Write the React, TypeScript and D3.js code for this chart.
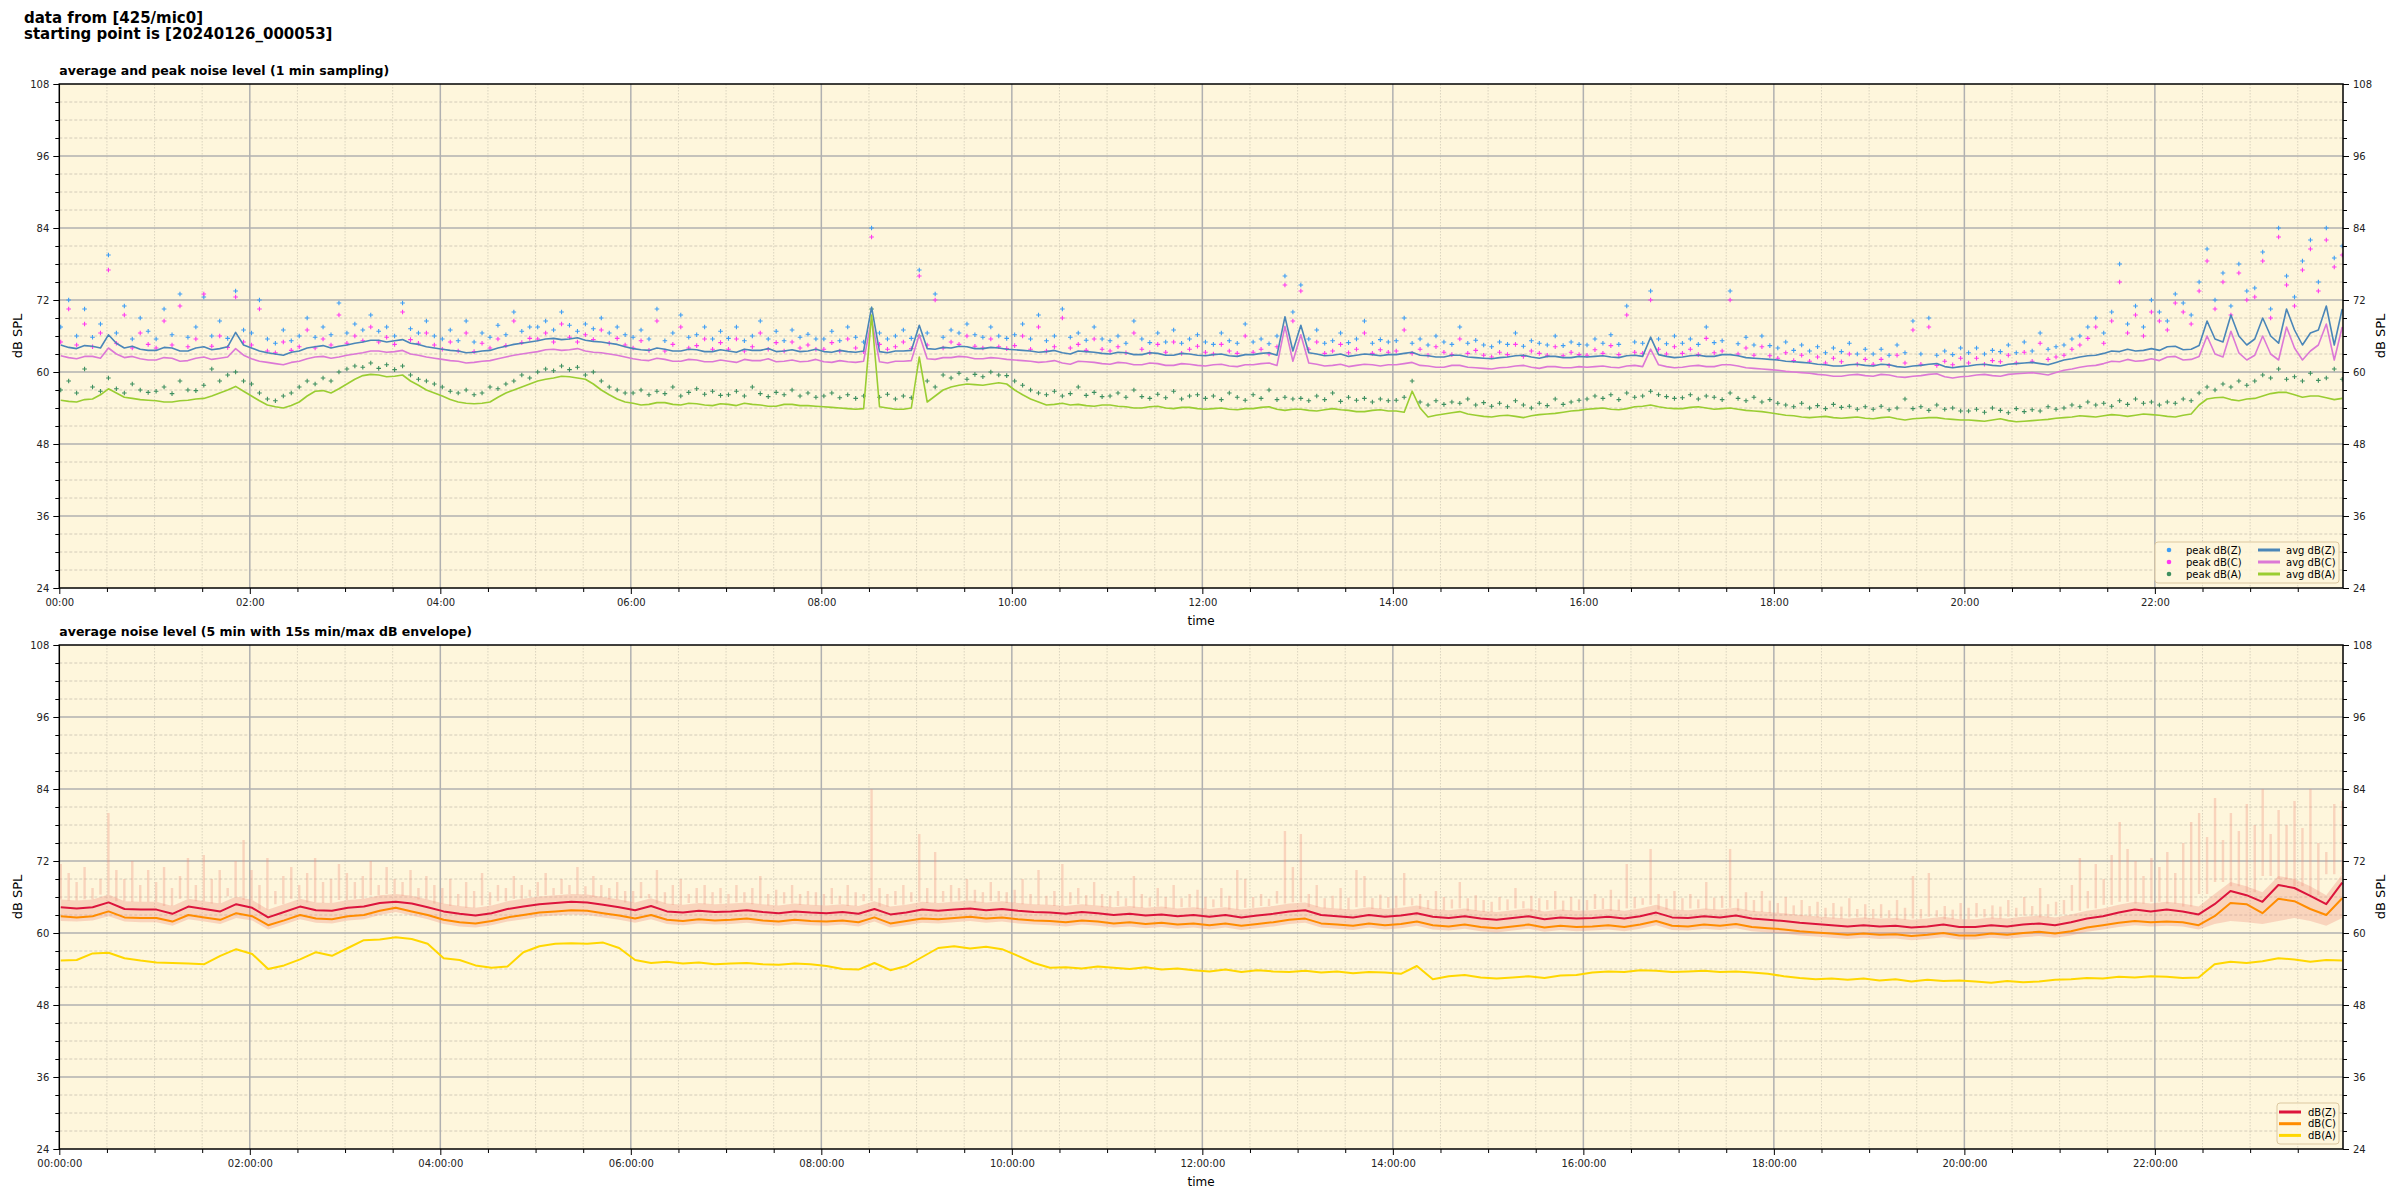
import React, { useEffect, useRef } from 'react';
import * as d3 from 'd3';

// ---- data ----
// 1 min chart: averages and peaks, one value every 5 min
const avgZ = [
  64.5, 64.1, 63.9, 64.4, 64.3, 64.0, 66.2, 64.8, 64.0, 64.3, 63.8, 63.6,
  63.6, 64.1, 64.0, 63.5, 63.5, 64.0, 64.2, 63.7, 63.9, 64.2, 66.6, 64.5,
  64.0, 63.5, 63.2, 63.0, 62.8, 63.3, 63.5, 64.0, 64.2, 64.4, 64.0, 64.3,
  64.5, 64.8, 65.0, 65.3, 65.3, 65.0, 65.2, 65.4, 64.8, 64.6, 64.2, 64.0,
  63.8, 63.6, 63.5, 63.2, 63.3, 63.5, 63.6, 64.0, 64.3, 64.6, 64.8, 65.0,
  65.2, 65.5, 65.6, 65.4, 65.5, 65.7, 65.3, 65.1, 65.0, 64.8, 64.6, 64.2,
  63.9, 63.7, 63.6, 64.0, 63.8, 63.5, 63.5, 63.8, 63.7, 63.4, 63.4, 63.7,
  63.5, 63.3, 63.8, 63.6, 63.6, 63.9, 63.4, 63.5, 63.7, 63.4, 63.5, 63.8,
  63.4, 63.3, 63.6, 63.4, 63.3, 63.5, 70.8, 63.4, 63.2, 63.5, 63.5, 63.6,
  67.8, 63.9, 63.8, 64.1, 64.0, 64.3, 64.2, 63.9, 63.9, 64.1, 64.0, 63.8,
  63.7, 63.6, 63.5, 63.3, 63.4, 63.6, 63.2, 63.0, 63.5, 63.4, 63.3, 63.1,
  63.0, 63.3, 63.2, 62.9, 62.9, 63.2, 63.1, 62.8, 62.8, 63.1, 63.0, 62.8,
  62.7, 62.9, 63.0, 62.7, 62.6, 62.9, 62.9, 63.1, 63.2, 62.8, 69.2, 63.5,
  67.8, 63.2, 63.0, 62.7, 62.8, 63.0, 62.6, 62.8, 63.0, 62.9, 62.7, 62.9,
  62.9, 63.1, 63.3, 62.8, 62.7, 62.5, 62.5, 62.8, 62.8, 62.5, 62.4, 62.3,
  62.2, 62.4, 62.5, 62.7, 62.8, 62.5, 62.3, 62.6, 62.6, 62.4, 62.4, 62.6,
  62.5, 62.6, 62.7, 62.5, 62.4, 62.7, 62.8, 62.6, 65.8, 62.9, 62.6, 62.4,
  62.5, 62.7, 62.8, 62.6, 62.6, 62.9, 62.9, 62.7, 62.4, 62.3, 62.2, 62.1,
  62.0, 61.8, 61.7, 61.6, 61.5, 61.3, 61.2, 61.0, 61.0, 61.2, 61.3, 61.1,
  61.0, 61.3, 61.2, 60.9, 60.8, 61.0, 61.1, 61.3, 61.4, 60.9, 60.7, 60.9,
  61.0, 61.2, 61.3, 61.1, 61.0, 61.3, 61.4, 61.5, 61.6, 61.4, 61.2, 61.6,
  62.0, 62.2, 62.5, 62.7, 62.8, 63.1, 63.5, 63.4, 63.8, 63.5, 63.6, 63.9,
  63.6, 64.2, 64.3, 63.7, 63.8, 64.4, 68.5, 65.5, 65.0, 69.5, 66.0, 64.5,
  65.5, 69.0, 66.0, 64.8, 70.5, 67.0, 64.5, 66.5, 67.0, 71.0, 64.5, 70.5,
];
const avgC = [
  62.7, 62.4, 62.2, 62.6, 62.6, 62.3, 64.0, 63.0, 62.4, 62.6, 62.2, 62.0,
  62.0, 62.4, 62.3, 61.8, 61.9, 62.3, 62.5, 62.1, 62.3, 62.5, 63.9, 62.8,
  62.2, 61.8, 61.6, 61.4, 61.2, 61.6, 61.8, 62.2, 62.5, 62.6, 62.3, 62.5,
  62.8, 63.0, 63.2, 63.5, 63.5, 63.3, 63.4, 63.6, 63.0, 62.8, 62.5, 62.3,
  62.1, 61.9, 61.8, 61.5, 61.6, 61.8, 61.9, 62.2, 62.5, 62.8, 63.0, 63.2,
  63.4, 63.7, 63.8, 63.6, 63.7, 63.9, 63.5, 63.3, 63.2, 63.0, 62.8, 62.5,
  62.2, 62.0, 61.9, 62.3, 62.1, 61.8, 61.8, 62.1, 62.0, 61.7, 61.7, 62.0,
  61.8, 61.6, 62.1, 61.9, 61.9, 62.2, 61.7, 61.8, 62.0, 61.7, 61.8, 62.1,
  61.7, 61.6, 61.9, 61.7, 61.6, 61.8, 68.8, 61.7, 61.5, 61.8, 61.8, 61.9,
  66.2, 62.2, 62.1, 62.4, 62.4, 62.6, 62.5, 62.2, 62.2, 62.4, 62.3, 62.1,
  62.0, 61.9, 61.8, 61.6, 61.7, 61.9, 61.5, 61.3, 61.8, 61.7, 61.6, 61.4,
  61.3, 61.6, 61.5, 61.2, 61.2, 61.5, 61.4, 61.1, 61.1, 61.4, 61.3, 61.1,
  61.0, 61.2, 61.3, 61.0, 60.9, 61.2, 61.2, 61.4, 61.5, 61.1, 67.6, 61.8,
  66.2, 61.5, 61.3, 61.0, 61.1, 61.3, 60.9, 61.1, 61.3, 61.2, 61.0, 61.2,
  61.2, 61.4, 61.6, 61.1, 61.0, 60.8, 60.8, 61.1, 61.1, 60.8, 60.7, 60.6,
  60.5, 60.7, 60.8, 61.0, 61.1, 60.8, 60.6, 60.9, 60.9, 60.7, 60.7, 60.9,
  60.8, 60.9, 61.0, 60.8, 60.7, 61.0, 61.1, 60.9, 63.8, 61.2, 60.9, 60.7,
  60.8, 61.0, 61.1, 60.9, 60.9, 61.2, 61.2, 61.0, 60.7, 60.6, 60.5, 60.4,
  60.3, 60.1, 60.0, 59.9, 59.8, 59.6, 59.5, 59.3, 59.3, 59.5, 59.6, 59.4,
  59.3, 59.6, 59.5, 59.2, 59.1, 59.3, 59.4, 59.6, 59.7, 59.2, 59.0, 59.2,
  59.3, 59.5, 59.6, 59.4, 59.3, 59.6, 59.7, 59.8, 59.9, 59.7, 59.5, 59.9,
  60.3, 60.5, 60.8, 61.0, 61.1, 61.4, 61.8, 61.7, 62.1, 61.8, 61.9, 62.2,
  61.9, 62.5, 62.6, 62.0, 62.1, 62.6, 66.0, 63.0, 62.5, 66.8, 63.2, 62.0,
  62.8, 66.0, 63.0, 62.0, 67.5, 64.0, 62.0, 63.5, 64.5, 68.0, 62.0, 67.5,
];
const avgA = [
  55.3, 55.1, 55.0, 55.4, 55.5, 56.2, 57.2, 56.5, 55.8, 55.6, 55.4, 55.3,
  55.2, 55.0, 55.0, 55.2, 55.3, 55.5, 55.6, 56.0, 56.5, 57.0, 57.6, 56.8,
  56.0, 55.2, 54.5, 54.2, 54.0, 54.4, 55.0, 56.0, 56.8, 56.9, 56.5, 57.2,
  58.0, 58.8, 59.4, 59.6, 59.5, 59.2, 59.3, 59.5, 58.5, 57.8, 57.0, 56.5,
  56.0, 55.4, 55.0, 54.8, 54.7, 54.8, 55.0, 55.8, 56.5, 57.0, 57.5, 58.0,
  58.5, 58.8, 59.0, 59.3, 59.2, 59.0, 58.8, 58.0, 57.0, 56.2, 55.5, 55.0,
  54.8, 54.5, 54.6, 54.9, 54.9, 54.6, 54.5, 54.8, 54.7, 54.5, 54.4, 54.7,
  54.6, 54.4, 54.8, 54.6, 54.5, 54.3, 54.3, 54.6, 54.6, 54.4, 54.4, 54.3,
  54.2, 54.1, 54.0, 53.9, 53.8, 53.9, 69.5, 54.2, 54.0, 53.8, 53.8, 54.0,
  62.5, 55.0, 56.0, 57.0, 57.5, 57.8, 58.0, 57.9, 57.8, 58.0, 58.2, 58.0,
  57.0, 56.2, 55.5, 55.0, 54.5, 54.6, 54.8, 54.5, 54.6, 54.4, 54.3, 54.5,
  54.5, 54.3, 54.2, 54.0, 54.0, 54.2, 54.3, 54.0, 53.9, 54.1, 54.1, 53.9,
  53.8, 53.9, 54.0, 53.8, 53.7, 53.9, 53.9, 54.1, 54.2, 53.8, 53.6, 53.8,
  53.8, 53.6, 53.5, 53.7, 53.9, 53.7, 53.6, 53.4, 53.4, 53.6, 53.7, 53.5,
  53.5, 53.3, 56.8, 54.0, 52.5, 52.8, 53.0, 53.2, 53.4, 53.0, 52.8, 52.6,
  52.5, 52.7, 52.8, 52.6, 52.4, 52.7, 52.9, 53.0, 53.1, 53.3, 53.5, 53.6,
  53.8, 53.9, 54.0, 53.8, 53.7, 53.9, 54.2, 54.3, 54.5, 54.2, 54.0, 53.9,
  53.9, 54.1, 54.2, 54.0, 53.8, 53.9, 54.0, 53.8, 53.6, 53.5, 53.4, 53.2,
  53.0, 52.8, 52.7, 52.5, 52.4, 52.5, 52.6, 52.4, 52.3, 52.4, 52.5, 52.3,
  52.2, 52.4, 52.5, 52.2, 52.0, 52.2, 52.3, 52.4, 52.4, 52.2, 52.1, 52.0,
  52.0, 51.9, 51.8, 52.0, 52.2, 51.9, 51.7, 51.8, 51.9, 52.0, 52.1, 52.3,
  52.4, 52.5, 52.7, 52.6, 52.5, 52.7, 52.9, 52.8, 52.6, 52.8, 53.0, 52.9,
  52.8, 52.6, 52.5, 52.8, 53.0, 54.5, 55.5, 55.7, 55.8, 55.4, 55.2, 55.5,
  55.6, 56.0, 56.4, 56.6, 56.6, 56.2, 55.8, 56.0, 56.0, 55.7, 55.4, 55.6,
];
const peakZ = [
  67.5, 72.0, 66.0, 70.5, 65.8, 68.0, 79.5, 66.5, 71.0, 65.5, 69.0, 66.8,
  65.5, 70.5, 66.2, 73.0, 65.8, 67.5, 72.5, 66.0, 68.5, 65.6, 73.5, 67.0,
  66.5, 72.0, 65.5, 64.8, 67.0, 65.2, 66.0, 69.0, 65.8, 67.5, 66.2, 71.5,
  66.5, 68.0, 67.0, 69.5, 66.8, 67.5, 66.0, 71.5, 67.2, 66.5, 68.5, 66.0,
  65.5, 67.0, 65.2, 68.5, 65.0, 66.5, 65.8, 67.8, 66.2, 70.0, 66.8, 67.5,
  67.5, 68.5, 67.0, 70.0, 67.8, 66.8, 68.0, 67.2, 69.0, 66.5, 67.5, 66.2,
  65.8, 67.0, 65.5, 70.5, 65.2, 66.5, 69.5, 65.8, 66.2, 67.5, 65.5, 66.8,
  65.6, 67.5, 65.2, 66.0, 68.5, 65.5, 66.8, 65.2, 67.0, 65.8, 66.3, 65.5,
  65.5, 66.8, 65.2, 67.5, 65.8, 65.0, 84.0, 66.5, 65.5, 66.0, 67.0, 65.6,
  77.0, 66.5, 73.0, 65.8, 67.0, 66.5, 68.0, 66.2, 65.8, 67.5, 66.0, 65.6,
  66.2, 68.0, 65.5, 69.5, 65.2, 66.0, 70.5, 65.8, 66.5, 65.3, 67.5, 65.5,
  65.2, 66.0, 64.8, 68.5, 65.5, 64.9, 66.5, 65.0, 67.0, 64.8, 65.5, 66.2,
  65.0, 64.6, 66.5, 65.2, 64.8, 68.0, 65.0, 65.5, 64.7, 66.0, 76.0, 70.0,
  74.5, 65.5, 67.0, 64.8, 65.2, 66.5, 64.9, 65.5, 68.5, 64.8, 65.4, 65.0,
  65.2, 69.0, 64.8, 65.5, 64.5, 66.0, 65.0, 64.6, 67.5, 64.8, 65.3, 64.5,
  64.2, 65.0, 64.6, 66.5, 64.3, 65.2, 64.8, 64.5, 66.0, 64.4, 65.0, 64.6,
  64.5, 65.5, 64.8, 66.2, 64.6, 71.0, 65.0, 64.8, 73.5, 65.5, 64.7, 66.0,
  64.8, 65.5, 64.6, 67.5, 64.9, 65.2, 73.5, 64.7, 65.8, 64.5, 66.0, 64.4,
  64.0, 65.0, 63.6, 64.5, 63.5, 64.2, 63.2, 64.0, 63.4, 64.8, 63.0, 63.8,
  63.0, 63.8, 62.8, 64.5, 63.2, 68.5, 63.0, 69.0, 62.8, 63.5, 62.9, 64.0,
  63.2, 64.0, 63.0, 63.6, 63.4, 64.5, 63.2, 65.0, 63.5, 66.5, 63.8, 64.2,
  64.5, 65.5, 66.0, 67.5, 69.0, 66.5, 70.0, 78.0, 68.0, 71.0, 67.5, 72.0,
  70.0, 68.5, 73.0, 71.5, 69.5, 75.0, 80.5, 72.0, 76.5, 71.0, 78.0, 73.5,
  74.0, 80.0, 70.5, 84.0, 76.0, 72.5, 78.5, 82.0, 75.0, 84.0, 79.0, 81.0,
];
const peakC = [
  65.0, 70.5, 64.5, 68.0, 64.2, 66.5, 77.0, 64.8, 69.5, 64.0, 66.5, 64.6,
  64.0, 68.5, 64.5, 71.0, 64.2, 65.5, 73.0, 64.3, 66.0, 64.1, 72.5, 65.0,
  64.5, 70.5, 63.5, 63.2, 65.0, 63.6, 64.2, 67.0, 64.0, 65.5, 64.5, 69.5,
  64.8, 66.0, 65.2, 67.5, 65.0, 65.8, 64.6, 70.0, 65.4, 64.8, 66.5, 64.5,
  63.8, 65.0, 63.5, 66.5, 63.4, 64.8, 64.0, 65.5, 64.4, 68.5, 64.9, 65.6,
  65.5, 66.5, 65.0, 68.0, 65.8, 65.0, 66.2, 65.4, 67.0, 64.8, 65.6, 64.5,
  64.0, 65.2, 63.6, 68.5, 63.5, 64.6, 67.5, 64.0, 64.4, 65.5, 63.8, 64.9,
  63.8, 65.5, 63.5, 64.2, 66.5, 63.8, 64.9, 63.5, 65.0, 64.0, 64.5, 63.8,
  63.8, 64.9, 63.5, 65.5, 64.0, 63.4, 82.5, 64.6, 63.8, 64.2, 65.0, 63.9,
  76.0, 64.5, 72.0, 64.0, 65.0, 64.6, 66.0, 64.3, 64.0, 65.5, 64.2, 63.9,
  64.4, 66.0, 63.8, 67.5, 63.5, 64.2, 69.0, 64.0, 64.6, 63.6, 65.5, 63.8,
  63.5, 64.2, 63.2, 66.5, 63.8, 63.2, 64.6, 63.3, 65.0, 63.1, 63.8, 64.3,
  63.3, 63.0, 64.6, 63.5, 63.1, 66.0, 63.3, 63.8, 63.0, 64.2, 74.5, 68.5,
  73.5, 63.8, 65.0, 63.1, 63.5, 64.6, 63.2, 63.8, 66.5, 63.1, 63.7, 63.3,
  63.5, 67.0, 63.1, 63.8, 62.8, 64.2, 63.3, 62.9, 65.5, 63.1, 63.6, 62.8,
  62.5, 63.3, 62.9, 64.6, 62.6, 63.5, 63.1, 62.8, 64.2, 62.7, 63.3, 62.9,
  62.8, 63.7, 63.1, 64.4, 62.9, 69.5, 63.3, 63.1, 72.0, 63.8, 63.0, 64.2,
  63.1, 63.8, 62.9, 65.6, 63.2, 63.5, 72.0, 63.0, 64.0, 62.8, 64.2, 62.7,
  62.3, 63.2, 61.9, 62.8, 61.8, 62.5, 61.5, 62.3, 61.7, 63.0, 61.3, 62.1,
  61.3, 62.1, 61.1, 62.8, 61.5, 67.0, 61.3, 67.5, 61.1, 61.8, 61.2, 62.3,
  61.5, 62.3, 61.3, 61.9, 61.7, 62.8, 61.5, 63.3, 61.8, 64.8, 62.1, 62.5,
  62.8, 63.8, 64.5, 65.6, 67.5, 64.8, 68.5, 75.0, 66.5, 69.5, 66.0, 70.0,
  68.5, 67.0, 71.5, 70.0, 68.0, 73.5, 78.5, 70.5, 75.0, 69.5, 76.5, 72.0,
  72.5, 78.5, 69.0, 82.5, 74.5, 71.0, 77.0, 80.5, 73.5, 82.0, 77.5, 79.5,
];
const peakA = [
  57.0, 58.5, 56.5, 60.5, 57.5, 56.8, 59.0, 57.2, 56.5, 58.0, 57.0, 56.6,
  56.8, 57.5, 56.4, 58.5, 57.0, 56.9, 57.8, 60.5, 58.5, 59.5, 60.0, 58.5,
  58.0, 56.5, 55.5, 55.2, 56.0, 56.5, 57.5, 58.5, 58.0, 59.0, 58.5, 60.0,
  60.5, 61.0, 60.8, 61.5, 60.6, 61.2, 60.4, 61.0, 59.5, 58.8, 58.5, 58.0,
  57.5, 56.8, 56.5, 57.0, 56.2, 56.5, 57.5, 57.2, 58.0, 58.5, 59.5, 59.0,
  60.0, 60.5, 60.2, 61.0, 60.4, 60.8, 59.5, 60.0, 58.5, 57.5, 57.0, 56.5,
  56.5, 57.0, 56.2, 56.8, 56.4, 57.5, 56.0, 56.6, 57.2, 56.3, 56.8, 56.1,
  56.2, 56.8, 56.0, 57.5, 56.4, 55.9, 56.6, 56.2, 57.0, 56.0, 56.5, 55.8,
  56.0, 56.5, 55.7, 56.2, 55.6, 56.0, 70.5, 55.8, 56.3, 55.5, 56.0, 55.7,
  66.0, 58.5, 57.5, 59.5, 59.0, 59.8, 58.8, 59.6, 59.2, 60.0, 59.5, 59.4,
  58.5, 57.8, 57.0, 56.5, 56.2, 56.8, 56.0, 56.4, 57.5, 56.1, 56.6, 55.9,
  56.0, 56.5, 55.8, 57.0, 55.9, 55.6, 56.3, 55.7, 56.8, 55.5, 56.0, 56.2,
  55.6, 56.0, 55.4, 56.5, 55.8, 55.3, 56.2, 55.6, 57.0, 55.4, 55.8, 55.5,
  55.6, 55.2, 56.0, 55.4, 56.5, 55.1, 55.8, 55.3, 55.6, 55.0, 55.5, 55.2,
  55.3, 55.8, 58.5, 55.0, 54.5, 55.2, 54.6, 55.0, 54.8, 55.5, 54.5, 54.9,
  54.3, 54.8, 54.2, 55.2, 54.5, 54.0, 54.8, 54.4, 55.5, 54.6, 55.0, 55.3,
  55.5, 56.0, 55.6, 56.2, 55.4, 56.5, 55.8, 56.0, 56.8, 56.2, 55.9, 55.6,
  55.7, 56.2, 55.5, 56.0, 55.8, 55.4, 56.5, 55.6, 55.2, 55.8, 55.0, 55.4,
  54.8, 54.5, 54.2, 54.8, 54.0, 54.4, 53.9, 54.6, 54.1, 54.3, 53.8, 54.2,
  53.8, 54.3, 53.7, 54.0, 55.5, 53.9, 54.2, 53.6, 54.5, 53.8, 54.0, 53.5,
  53.5, 53.8, 53.3, 54.0, 53.6, 53.2, 53.9, 53.4, 53.7, 53.5, 54.2, 53.8,
  54.0, 54.5, 54.2, 55.0, 54.5, 54.8, 54.3, 55.2, 54.6, 55.5, 54.8, 55.0,
  54.5, 55.0, 54.8, 55.5, 55.2, 56.5, 57.5, 57.0, 58.0, 57.5, 58.5, 57.8,
  58.5, 59.5, 59.0, 60.5, 58.8, 59.2, 58.5, 59.8, 58.6, 59.0, 60.5, 58.8,
];

// 5 min chart: lines and envelope band every 10 min, 15 s max spikes every 5 min
const dbZ = [
  64.3, 64.1, 64.3, 65.1, 64.0, 63.9, 63.9, 63.2, 64.4, 64.0, 63.6, 64.8,
  64.2, 62.6, 63.5, 64.4, 63.8, 63.7, 64.2, 64.4, 65.0, 65.2, 64.9, 64.3,
  63.6, 63.2, 62.9, 63.3, 64.0, 64.4, 64.8, 65.0, 65.2, 65.1, 64.7, 64.3,
  63.8, 64.5, 63.6, 63.4, 63.7, 63.5, 63.6, 63.8, 63.5, 63.3, 63.6, 63.4,
  63.3, 63.5, 63.2, 64.0, 63.1, 63.4, 63.9, 63.7, 63.9, 64.1, 63.8, 64.0,
  63.7, 63.5, 63.4, 63.2, 63.5, 63.3, 63.0, 63.2, 62.9, 63.1, 62.8, 63.0,
  62.7, 63.0, 62.6, 62.9, 63.2, 63.6, 63.8, 63.0, 62.8, 62.6, 63.0, 62.7,
  62.9, 63.3, 62.7, 62.5, 62.8, 62.4, 62.2, 62.5, 62.8, 62.3, 62.6, 62.4,
  62.5, 62.7, 62.4, 62.8, 63.4, 62.6, 62.5, 62.8, 62.6, 62.9, 62.4, 62.2,
  62.0, 61.7, 61.5, 61.3, 61.1, 61.3, 61.1, 61.2, 60.9, 61.1, 61.4, 61.0,
  61.0, 61.3, 61.1, 61.4, 61.6, 61.3, 61.8, 62.4, 62.8, 63.4, 63.9, 63.6,
  63.9, 63.6, 63.1, 64.8, 67.0, 66.3, 65.2, 68.0, 67.5, 66.2, 64.8, 68.4,
];
const dbC = [
  62.8, 62.6, 62.8, 63.6, 62.6, 62.5, 62.5, 61.9, 63.0, 62.6, 62.2, 63.3,
  62.8, 61.3, 62.1, 63.0, 62.4, 62.3, 62.8, 63.0, 63.7, 64.2, 63.6, 63.0,
  62.2, 61.8, 61.6, 62.0, 62.6, 63.0, 63.4, 63.6, 63.8, 63.7, 63.3, 62.9,
  62.4, 63.0, 62.2, 62.0, 62.3, 62.1, 62.2, 62.4, 62.1, 61.9, 62.2, 62.0,
  61.9, 62.1, 61.8, 62.6, 61.6, 62.0, 62.4, 62.3, 62.5, 62.7, 62.4, 62.6,
  62.3, 62.1, 62.0, 61.8, 62.1, 61.9, 61.6, 61.8, 61.5, 61.7, 61.4, 61.6,
  61.3, 61.6, 61.2, 61.5, 61.8, 62.2, 62.4, 61.6, 61.4, 61.2, 61.6, 61.3,
  61.5, 61.9, 61.3, 61.1, 61.4, 61.0, 60.8, 61.1, 61.4, 60.9, 61.2, 61.0,
  61.1, 61.3, 61.0, 61.4, 62.0, 61.2, 61.1, 61.4, 61.2, 61.5, 61.0, 60.8,
  60.6, 60.3, 60.1, 59.9, 59.7, 59.9, 59.7, 59.8, 59.5, 59.7, 60.0, 59.6,
  59.6, 59.9, 59.7, 60.0, 60.2, 59.9, 60.3, 60.9, 61.3, 61.7, 62.0, 61.8,
  61.9, 61.8, 61.3, 62.8, 65.0, 64.8, 63.3, 65.7, 65.3, 64.0, 63.0, 65.8,
];
const dbA = [
  55.4, 55.5, 56.6, 56.7, 55.8, 55.4, 55.1, 55.0, 54.9, 54.8, 56.2, 57.3,
  56.5, 54.0, 54.6, 55.6, 56.8, 56.2, 57.5, 58.8, 58.9, 59.3, 59.0, 58.2,
  55.8, 55.5, 54.6, 54.2, 54.4, 56.8, 57.8, 58.2, 58.3, 58.2, 58.4, 57.5,
  55.5, 55.0, 55.2, 54.9, 55.1, 54.8, 54.9, 55.0, 54.8, 54.7, 54.9, 54.8,
  54.5, 54.0, 53.9, 55.0, 53.8, 54.5, 56.0, 57.5, 57.8, 57.4, 57.7, 57.3,
  56.2, 55.0, 54.2, 54.3, 54.1, 54.4, 54.2, 54.0, 54.3, 53.9, 54.1, 53.8,
  53.6, 53.9, 53.5, 53.8, 53.6, 53.5, 53.7, 53.4, 53.6, 53.3, 53.5, 53.4,
  53.2, 54.5, 52.3, 52.8, 53.0, 52.6, 52.4, 52.6, 52.8, 52.5, 52.9, 53.0,
  53.4, 53.6, 53.5, 53.8, 53.7, 53.5, 53.6, 53.7, 53.5, 53.6, 53.4, 53.2,
  52.8, 52.5, 52.3, 52.4, 52.2, 52.4, 52.1, 52.3, 51.9, 52.2, 52.0, 52.1,
  51.9, 51.7, 52.0, 51.8, 51.9, 52.2, 52.3, 52.5, 52.4, 52.7, 52.6, 52.8,
  52.7, 52.5, 52.6, 54.8, 55.2, 55.0, 55.3, 55.8, 55.6, 55.2, 55.5, 55.4,
];
const envMin = [
  62.0, 61.9, 62.1, 62.8, 61.9, 61.8, 61.8, 61.2, 62.3, 61.9, 61.5, 62.5,
  62.1, 60.6, 61.4, 62.3, 61.7, 61.6, 62.1, 62.3, 63.0, 63.5, 62.9, 62.3,
  61.5, 61.1, 60.9, 61.3, 61.9, 62.3, 62.7, 62.9, 63.1, 63.0, 62.6, 62.2,
  61.7, 62.3, 61.5, 61.3, 61.6, 61.4, 61.5, 61.7, 61.4, 61.2, 61.5, 61.3,
  61.2, 61.4, 61.1, 61.9, 60.9, 61.3, 61.7, 61.6, 61.8, 62.0, 61.7, 61.9,
  61.6, 61.4, 61.3, 61.1, 61.4, 61.2, 60.9, 61.1, 60.8, 61.0, 60.7, 60.9,
  60.6, 60.9, 60.5, 60.8, 61.1, 61.5, 61.7, 60.9, 60.7, 60.5, 60.9, 60.6,
  60.8, 61.2, 60.6, 60.4, 60.7, 60.3, 60.1, 60.4, 60.7, 60.2, 60.5, 60.3,
  60.4, 60.6, 60.3, 60.7, 61.3, 60.5, 60.4, 60.7, 60.5, 60.8, 60.3, 60.1,
  59.9, 59.6, 59.4, 59.2, 59.0, 59.2, 59.0, 59.1, 58.8, 59.0, 59.3, 58.9,
  58.9, 59.2, 59.0, 59.3, 59.5, 59.2, 59.6, 60.2, 60.6, 61.0, 61.3, 61.1,
  61.2, 61.1, 60.6, 61.5, 62.0, 61.8, 61.5, 62.0, 62.5, 62.0, 61.2, 62.5,
];
const envTop = [
  65.6, 65.4, 65.6, 66.4, 65.3, 65.2, 65.2, 64.5, 65.7, 65.3, 64.9, 66.1,
  65.5, 63.9, 64.8, 65.7, 65.1, 65.0, 65.5, 65.7, 66.3, 66.5, 66.2, 65.6,
  64.9, 64.5, 64.2, 64.6, 65.3, 65.7, 66.1, 66.3, 66.5, 66.4, 66.0, 65.6,
  65.1, 65.8, 64.9, 64.7, 65.0, 64.8, 64.9, 65.1, 64.8, 64.6, 64.9, 64.7,
  64.6, 64.8, 64.5, 65.3, 64.4, 64.7, 65.2, 65.0, 65.2, 65.4, 65.1, 65.3,
  65.0, 64.8, 64.7, 64.5, 64.8, 64.6, 64.3, 64.5, 64.2, 64.4, 64.1, 64.3,
  64.0, 64.3, 63.9, 64.2, 64.5, 64.9, 65.1, 64.3, 64.1, 63.9, 64.3, 64.0,
  64.2, 64.6, 64.0, 63.8, 64.1, 63.7, 63.5, 63.8, 64.1, 63.6, 63.9, 63.7,
  63.8, 64.0, 63.7, 64.1, 64.7, 63.9, 63.8, 64.1, 63.9, 64.2, 63.7, 63.5,
  63.3, 63.0, 62.8, 62.6, 62.4, 62.6, 62.4, 62.5, 62.2, 62.4, 62.7, 62.3,
  62.3, 62.6, 62.4, 62.7, 62.9, 62.6, 63.1, 63.7, 64.1, 64.7, 65.2, 64.9,
  65.2, 64.9, 64.4, 66.5, 68.5, 67.8, 66.8, 69.5, 69.0, 67.8, 66.3, 69.8,
];
const envMax = [
  71.5, 70.0, 68.5, 71.0, 67.5, 69.0, 80.0, 70.5, 69.0, 72.0, 68.0, 70.5,
  68.5, 71.0, 67.5, 69.5, 72.5, 68.0, 73.0, 69.0, 70.5, 67.5, 72.0, 75.5,
  70.5, 68.0, 72.5, 67.0, 69.5, 71.0, 68.0, 70.0, 72.5, 68.5, 69.0, 71.5,
  70.0, 68.5, 69.5, 72.0, 68.0, 71.0, 69.0, 68.5, 70.5, 67.5, 69.5, 68.0,
  67.5, 69.0, 66.5, 68.5, 67.0, 70.0, 66.8, 68.0, 67.5, 69.5, 68.0, 67.2,
  68.5, 70.0, 67.5, 69.0, 68.0, 71.0, 67.8, 69.5, 68.0, 67.5, 68.5, 67.0,
  67.0, 68.5, 66.5, 70.5, 66.8, 68.0, 69.0, 66.5, 67.5, 68.0, 66.8, 67.5,
  66.5, 68.0, 66.8, 67.5, 69.5, 66.5, 67.2, 66.8, 68.0, 66.5, 67.0, 66.8,
  66.5, 67.5, 66.2, 68.0, 66.8, 66.5, 84.0, 67.5, 66.5, 67.0, 68.0, 66.8,
  76.5, 67.5, 73.5, 67.0, 68.0, 67.5, 69.0, 67.2, 66.8, 68.5, 67.0, 66.8,
  67.2, 69.0, 66.5, 70.5, 66.2, 67.0, 71.5, 66.8, 67.5, 66.3, 68.5, 66.5,
  66.2, 67.0, 65.8, 69.5, 66.5, 65.9, 67.5, 66.0, 68.0, 65.8, 66.5, 67.2,
  66.0, 65.6, 67.5, 66.2, 70.5, 69.0, 66.0, 66.5, 65.7, 67.0, 77.0, 71.0,
  76.5, 66.5, 68.0, 65.8, 66.2, 67.5, 65.9, 70.5, 69.5, 65.8, 66.4, 66.0,
  66.2, 70.0, 65.8, 66.5, 65.5, 67.0, 66.0, 65.6, 68.5, 65.8, 66.3, 65.5,
  65.2, 66.0, 65.6, 67.5, 65.3, 66.2, 65.8, 65.5, 67.0, 65.4, 66.0, 65.6,
  65.5, 66.5, 65.8, 67.2, 65.6, 71.5, 66.0, 65.8, 74.0, 66.5, 65.7, 67.0,
  65.8, 66.5, 65.6, 68.5, 65.9, 66.2, 74.0, 65.7, 66.8, 65.5, 67.0, 65.4,
  65.0, 66.0, 64.6, 65.5, 64.5, 65.2, 64.2, 65.0, 64.4, 65.8, 64.0, 64.8,
  64.0, 64.8, 63.8, 65.5, 64.2, 69.5, 64.0, 70.0, 63.8, 64.5, 63.9, 65.0,
  64.2, 65.0, 64.0, 64.6, 64.4, 65.5, 64.2, 66.0, 64.5, 67.5, 64.8, 65.2,
  65.5, 68.0, 72.5, 67.0, 71.5, 69.0, 73.0, 78.5, 74.0, 72.0, 69.5, 72.5,
  71.0, 73.5, 70.0, 75.0, 78.5, 80.0, 76.0, 82.5, 75.5, 80.0, 77.0, 81.5,
  78.0, 84.0, 76.5, 80.5, 78.0, 82.0, 77.5, 84.0, 75.0, 73.5, 81.5, 82.0,
];

// time grid in minutes after 00:00 (first sample 00:00:53, last ~23:58)
const tStart = 0.9;
const tEnd = 1438;
const tMax = 1438.5;
const grid = (n: number) => d3.range(n).map(i => tStart + (i * (tEnd - tStart)) / (n - 1));

const FONT = 'DejaVu Sans, sans-serif';
const BG = '#fef6dc';
const PLOT_L = 59.3;
const PLOT_R = 2343;

const App: React.FC = () => {
  const svgRef = useRef<SVGSVGElement>(null);

  useEffect(() => {
    const svg = d3.select(svgRef.current);
    svg.selectAll('*').remove();

    svg.append('text').attr('x', 24).attr('y', 23).attr('font-family', FONT).attr('font-size', 15)
      .attr('font-weight', 'bold').text('data from [425/mic0]');
    svg.append('text').attr('x', 24).attr('y', 39).attr('font-family', FONT).attr('font-size', 15)
      .attr('font-weight', 'bold').text('starting point is [20240126_000053]');

    const x = d3.scaleLinear().domain([0, tMax]).range([PLOT_L, PLOT_R]);

    function panel(top: number, bottom: number, title: string, tickFmt: (m: number) => string, id: string) {
      const g = svg.append('g');
      const y = d3.scaleLinear().domain([24, 108]).range([bottom, top]);

      g.append('rect').attr('x', PLOT_L).attr('y', top).attr('width', PLOT_R - PLOT_L)
        .attr('height', bottom - top).attr('fill', BG);

      // minor grid
      d3.range(27, 108, 3).filter(v => v % 12 !== 0).forEach(v => {
        g.append('line').attr('x1', PLOT_L).attr('x2', PLOT_R).attr('y1', y(v)).attr('y2', y(v))
          .attr('stroke', '#c9c2b0').attr('stroke-width', 0.8).attr('stroke-dasharray', '3,2');
      });
      d3.range(30, 1440, 30).filter(m => m % 120 !== 0).forEach(m => {
        g.append('line').attr('x1', x(m)).attr('x2', x(m)).attr('y1', top).attr('y2', bottom)
          .attr('stroke', '#d2cbb8').attr('stroke-width', 0.8).attr('stroke-dasharray', '1.5,1.5');
      });
      // major grid
      d3.range(36, 108, 12).forEach(v => {
        g.append('line').attr('x1', PLOT_L).attr('x2', PLOT_R).attr('y1', y(v)).attr('y2', y(v))
          .attr('stroke', '#b0b0b0').attr('stroke-width', 1.5);
      });
      d3.range(120, 1440, 120).forEach(m => {
        g.append('line').attr('x1', x(m)).attr('x2', x(m)).attr('y1', top).attr('y2', bottom)
          .attr('stroke', '#b0b0b0').attr('stroke-width', 1.5);
      });

      svg.append('clipPath').attr('id', id).append('rect').attr('x', PLOT_L).attr('y', top)
        .attr('width', PLOT_R - PLOT_L).attr('height', bottom - top);
      const data = g.append('g').attr('clip-path', `url(#${id})`);

      // axes
      const styleAxis = (a: d3.Selection<SVGGElement, unknown, null, undefined>) => {
        a.select('.domain').remove();
        a.selectAll('text').attr('font-family', FONT).attr('font-size', 10).attr('fill', '#222');
        a.selectAll('line').attr('stroke', '#000');
      };
      const xMajor = g.append('g').attr('transform', `translate(0,${bottom})`)
        .call(d3.axisBottom(x).tickValues(d3.range(0, 1439, 120)).tickFormat(d => tickFmt(+d)).tickSize(6).tickPadding(5));
      styleAxis(xMajor);
      const xMinor = g.append('g').attr('transform', `translate(0,${bottom})`)
        .call(d3.axisBottom(x).tickValues(d3.range(30, 1440, 30).filter(m => m % 120 !== 0)).tickFormat(() => '').tickSize(4));
      styleAxis(xMinor);

      const yTicks = d3.range(24, 109, 12);
      const yMinorTicks = d3.range(27, 108, 3).filter(v => v % 12 !== 0);
      const yl = g.append('g').attr('transform', `translate(${PLOT_L},0)`)
        .call(d3.axisLeft(y).tickValues(yTicks).tickFormat(d3.format('d')).tickSize(6).tickPadding(4));
      styleAxis(yl);
      const ylm = g.append('g').attr('transform', `translate(${PLOT_L},0)`)
        .call(d3.axisLeft(y).tickValues(yMinorTicks).tickFormat(() => '').tickSize(4));
      styleAxis(ylm);
      const yr = g.append('g').attr('transform', `translate(${PLOT_R},0)`)
        .call(d3.axisRight(y).tickValues(yTicks).tickFormat(d3.format('d')).tickSize(6).tickPadding(4));
      styleAxis(yr);
      const yrm = g.append('g').attr('transform', `translate(${PLOT_R},0)`)
        .call(d3.axisRight(y).tickValues(yMinorTicks).tickFormat(() => '').tickSize(4));
      styleAxis(yrm);

      g.append('text').attr('x', PLOT_L).attr('y', top - 9).attr('font-family', FONT).attr('font-size', 12.5)
        .attr('font-weight', 'bold').text(title);
      g.append('text').attr('x', (PLOT_L + PLOT_R) / 2).attr('y', bottom + 37).attr('text-anchor', 'middle')
        .attr('font-family', FONT).attr('font-size', 12).text('time');
      const mid = (top + bottom) / 2;
      g.append('text').attr('transform', `translate(22,${mid}) rotate(-90)`).attr('text-anchor', 'middle')
        .attr('font-family', FONT).attr('font-size', 13).text('dB SPL');
      g.append('text').attr('transform', `translate(2385,${mid}) rotate(-90)`).attr('text-anchor', 'middle')
        .attr('font-family', FONT).attr('font-size', 13).text('dB SPL');

      // frame drawn last
      const frame = () => g.append('rect').attr('x', PLOT_L).attr('y', top).attr('width', PLOT_R - PLOT_L)
        .attr('height', bottom - top).attr('fill', 'none').attr('stroke', '#000').attr('stroke-width', 1.5);

      return { g, data, y, frame };
    }

    const hhmm = (m: number) => d3.utcFormat('%H:%M')(new Date(m * 60000));
    const hhmmss = (m: number) => d3.utcFormat('%H:%M:%S')(new Date(m * 60000));

    // ---- top panel ----
    const p1 = panel(84, 588, 'average and peak noise level (1 min sampling)', hhmm, 'clipTop');
    const t5 = grid(peakZ.length);

    const plus = 'M-2.3,0H2.3M0,-2.3V2.3';
    const scatter = (vals: number[], color: string) => {
      p1.data.append('g').selectAll('path').data(vals).join('path')
        .attr('d', plus).attr('transform', (d, i) => `translate(${x(t5[i])},${p1.y(d)})`)
        .attr('stroke', color).attr('stroke-width', 1.1).attr('fill', 'none');
    };
    scatter(peakZ, '#3d9df5');
    scatter(peakC, '#ff38f0');
    scatter(peakA, '#3d8f5f');

    const line1 = d3.line<number>().x((d, i) => x(t5[i])).y(d => p1.y(d));
    const avgLine = (vals: number[], color: string) => {
      p1.data.append('path').datum(vals).attr('d', line1).attr('fill', 'none')
        .attr('stroke', color).attr('stroke-width', 1.6).attr('stroke-linejoin', 'round');
    };
    avgLine(avgZ, '#4a86b8');
    avgLine(avgC, '#dc78d6');
    avgLine(avgA, '#9acd32');
    p1.frame();

    // legend top
    const lg1 = p1.g.append('g');
    lg1.append('rect').attr('x', 2155).attr('y', 542).attr('width', 184).attr('height', 41).attr('rx', 3)
      .attr('fill', BG).attr('fill-opacity', 0.85).attr('stroke', '#dcc8a0');
    const peakLeg = [['peak dB(Z)', '#3d9df5'], ['peak dB(C)', '#ff38f0'], ['peak dB(A)', '#3d8f5f']];
    const avgLeg = [['avg dB(Z)', '#4a86b8'], ['avg dB(C)', '#dc78d6'], ['avg dB(A)', '#9acd32']];
    peakLeg.forEach(([label, c], i) => {
      const yy = 550 + i * 12;
      lg1.append('circle').attr('cx', 2169).attr('cy', yy).attr('r', 2.3).attr('fill', c);
      lg1.append('text').attr('x', 2186).attr('y', yy + 3.5).attr('font-family', FONT).attr('font-size', 10).text(label);
    });
    avgLeg.forEach(([label, c], i) => {
      const yy = 550 + i * 12;
      lg1.append('line').attr('x1', 2258).attr('x2', 2280).attr('y1', yy).attr('y2', yy)
        .attr('stroke', c).attr('stroke-width', 3);
      lg1.append('text').attr('x', 2286).attr('y', yy + 3.5).attr('font-family', FONT).attr('font-size', 10).text(label);
    });

    // ---- bottom panel ----
    const p2 = panel(645, 1149, 'average noise level (5 min with 15s min/max dB envelope)', hhmmss, 'clipBot');
    const t10 = grid(dbZ.length);
    const tSpike = grid(envMax.length);
    const ENV = '#f0907c';

    const band = d3.area<number>().x((d, i) => x(t10[i])).y0((d, i) => p2.y(envMin[i])).y1(d => p2.y(d));
    p2.data.append('path').datum(envTop).attr('d', band).attr('fill', ENV).attr('fill-opacity', 0.33);

    // 15 s max spikes as thin bars rising from the band
    p2.data.append('g').selectAll('rect').data(envMax).join('rect')
      .attr('x', (d, i) => x(tSpike[i]) - 1.2)
      .attr('width', 2.4)
      .attr('y', d => p2.y(d))
      .attr('height', (d, i) => Math.max(0, p2.y(envTop[Math.min(envTop.length - 1, Math.round(i / 2))]) - p2.y(d)))
      .attr('fill', ENV).attr('fill-opacity', 0.33);

    const line2 = d3.line<number>().x((d, i) => x(t10[i])).y(d => p2.y(d));
    const dbLine = (vals: number[], color: string) => {
      p2.data.append('path').datum(vals).attr('d', line2).attr('fill', 'none')
        .attr('stroke', color).attr('stroke-width', 2).attr('stroke-linejoin', 'round');
    };
    dbLine(dbZ, '#dc143c');
    dbLine(dbC, '#ff8c00');
    dbLine(dbA, '#ffd700');
    p2.frame();

    const lg2 = p2.g.append('g');
    lg2.append('rect').attr('x', 2277).attr('y', 1103).attr('width', 62).attr('height', 41).attr('rx', 3)
      .attr('fill', BG).attr('fill-opacity', 0.85).attr('stroke', '#dcc8a0');
    [['dB(Z)', '#dc143c'], ['dB(C)', '#ff8c00'], ['dB(A)', '#ffd700']].forEach(([label, c], i) => {
      const yy = 1112 + i * 11.7;
      lg2.append('line').attr('x1', 2279).attr('x2', 2301).attr('y1', yy).attr('y2', yy)
        .attr('stroke', c).attr('stroke-width', 3);
      lg2.append('text').attr('x', 2308).attr('y', yy + 3.5).attr('font-family', FONT).attr('font-size', 10).text(label);
    });
  }, []);

  return (
    <div style={{ position: 'absolute', left: 0, top: 0 }}>
      <svg ref={svgRef} width={2400} height={1200} style={{ display: 'block', background: '#fff' }}></svg>
    </div>
  );
};

export default App;
